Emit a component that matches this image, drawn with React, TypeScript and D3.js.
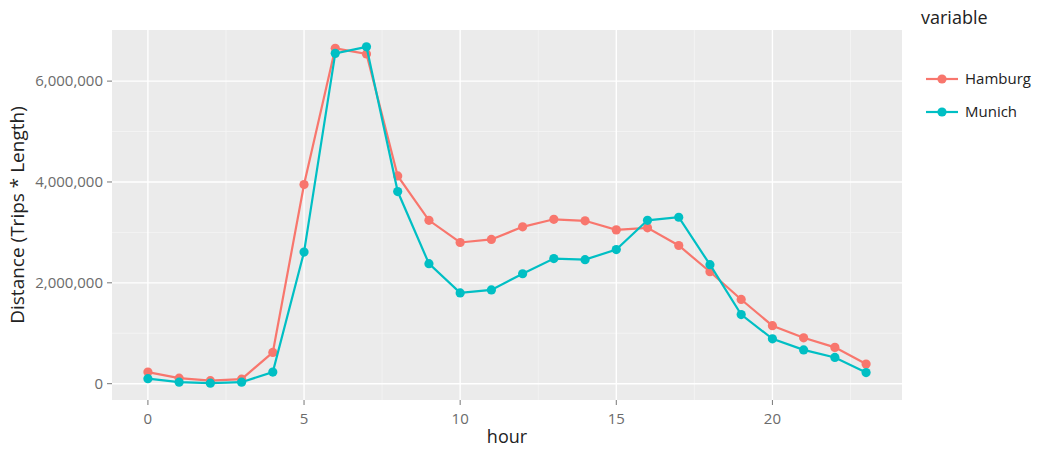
import React from 'react';
import * as d3 from 'd3';

const hours = d3.range(0, 24);
const hamburg = [0.23, 0.11, 0.06, 0.09, 0.62, 3.95, 6.65, 6.54, 4.12, 3.24, 2.8, 2.86, 3.11, 3.26, 3.23, 3.05, 3.09, 2.74, 2.22, 1.67, 1.15, 0.91, 0.72, 0.39].map((v) => v * 1e6);
const munich = [0.1, 0.03, 0.01, 0.03, 0.23, 2.61, 6.55, 6.68, 3.81, 2.38, 1.8, 1.86, 2.18, 2.48, 2.46, 2.66, 3.24, 3.3, 2.36, 1.37, 0.89, 0.67, 0.52, 0.22].map((v) => v * 1e6);
const xTicks = [0, 5, 10, 15, 20];
const xMinor = [2.5, 7.5, 12.5, 17.5, 22.5];
const yTicks = [0, 2e6, 4e6, 6e6];
const yMinor = [1e6, 3e6, 5e6];

const series = [
  { name: 'Hamburg', values: hamburg, color: '#F8766D' },
  { name: 'Munich', values: munich, color: '#00BFC4' },
];

const W = 1039;
const H = 451;
const panel = { left: 112, right: 902, top: 30, bottom: 400 };
const font = '"Open Sans", "DejaVu Sans", sans-serif';

export default function App() {
  const all = [...hamburg, ...munich];
  const lo = d3.min(all) || 0;
  const hi = d3.max(all) || 0;
  const padY = (hi - lo) * 0.05;
  const x = d3.scaleLinear().domain([-1.15, 24.15]).range([panel.left, panel.right]);
  const y = d3.scaleLinear().domain([lo - padY, hi + padY]).range([panel.bottom, panel.top]);
  const line = d3
    .line<number>()
    .x((_, i) => x(hours[i]))
    .y((d) => y(d));
  const fmt = d3.format(',');

  return (
    <svg width={W} height={H} style={{ position: 'absolute', left: 0, top: 0, background: '#fff' }} fontFamily={font}>
      <rect x={panel.left} y={panel.top} width={panel.right - panel.left} height={panel.bottom - panel.top} fill="#EBEBEB" />
      {/* grid */}
      {yMinor.map((t) => (
        <line key={'ym' + t} x1={panel.left} x2={panel.right} y1={y(t)} y2={y(t)} stroke="#F5F5F5" strokeWidth={0.8} />
      ))}
      {xMinor.map((t) => (
        <line key={'xm' + t} x1={x(t)} x2={x(t)} y1={panel.top} y2={panel.bottom} stroke="#F5F5F5" strokeWidth={0.8} />
      ))}
      {yTicks.map((t) => (
        <line key={'y' + t} x1={panel.left} x2={panel.right} y1={y(t)} y2={y(t)} stroke="#fff" strokeWidth={1.4} />
      ))}
      {xTicks.map((t) => (
        <line key={'x' + t} x1={x(t)} x2={x(t)} y1={panel.top} y2={panel.bottom} stroke="#fff" strokeWidth={1.4} />
      ))}
      {/* axes */}
      {yTicks.map((t) => (
        <g key={'yl' + t}>
          <line x1={panel.left - 5} x2={panel.left} y1={y(t)} y2={y(t)} stroke="#777" strokeWidth={1} />
          <text x={panel.left - 9} y={y(t)} dy="0.35em" textAnchor="end" fontSize={15} fill="#6b6b6b">
            {fmt(t)}
          </text>
        </g>
      ))}
      {xTicks.map((t) => (
        <g key={'xl' + t}>
          <line x1={x(t)} x2={x(t)} y1={panel.bottom} y2={panel.bottom + 5} stroke="#777" strokeWidth={1} />
          <text x={x(t)} y={panel.bottom + 19} dy="0.35em" textAnchor="middle" fontSize={15} fill="#6b6b6b">
            {t}
          </text>
        </g>
      ))}
      <text x={(panel.left + panel.right) / 2} y={443} textAnchor="middle" fontSize={18} fill="#222">
        hour
      </text>
      <text transform={`translate(24,${(panel.top + panel.bottom) / 2}) rotate(-90)`} textAnchor="middle" fontSize={19} fill="#222">
        Distance (Trips * Length)
      </text>
      {/* series */}
      {series.map((s) => (
        <g key={s.name}>
          <path d={line(s.values) || ''} fill="none" stroke={s.color} strokeWidth={2.2} />
          {s.values.map((v, i) => (
            <circle key={i} cx={x(hours[i])} cy={y(v)} r={4.6} fill={s.color} />
          ))}
        </g>
      ))}
      {/* legend */}
      <text x={921} y={24} fontSize={18} fill="#222">
        variable
      </text>
      {series.map((s, i) => {
        const cy = 79 + i * 33;
        return (
          <g key={'lg' + s.name}>
            <line x1={926} x2={958} y1={cy} y2={cy} stroke={s.color} strokeWidth={2.2} />
            <circle cx={942} cy={cy} r={4.6} fill={s.color} />
            <text x={965} y={cy} dy="0.35em" fontSize={15} fill="#222">
              {s.name}
            </text>
          </g>
        );
      })}
    </svg>
  );
}
